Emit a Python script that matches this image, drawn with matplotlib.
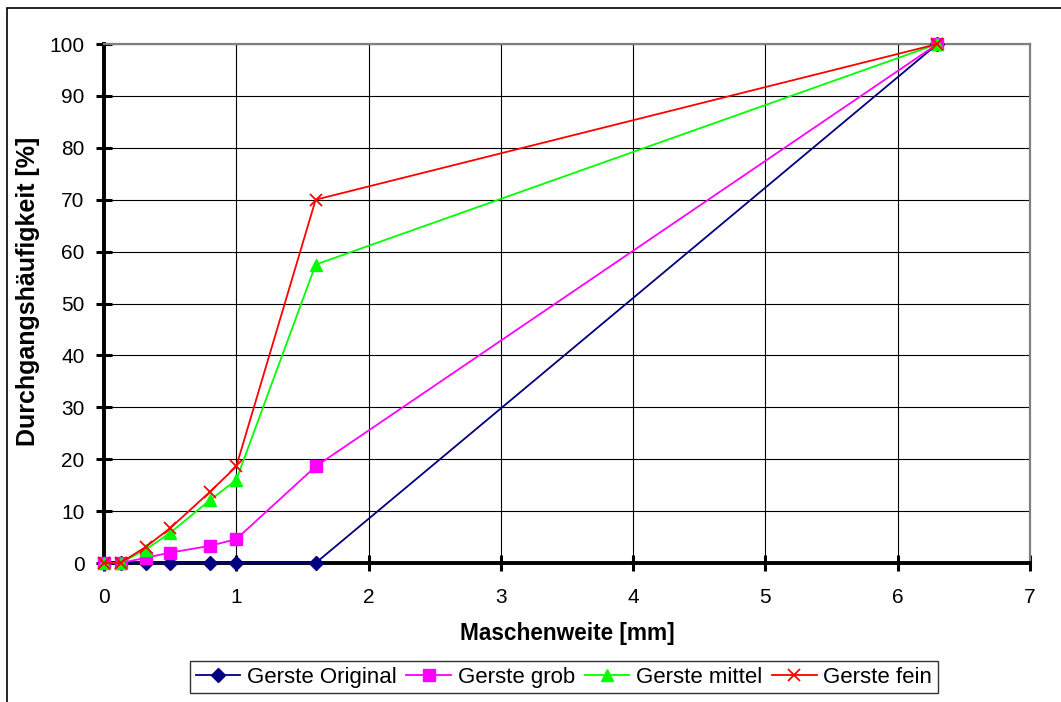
import matplotlib.pyplot as plt
from matplotlib.patches import Rectangle

plt.rcParams['font.family'] = ['Liberation Sans', 'DejaVu Sans']

# sieve sizes (mm) and passing fractions (%)
maschenweite = [0, 0.125, 0.315, 0.5, 0.8, 1.0, 1.6, 6.3]
original = [0, 0, 0, 0, 0, 0, 0, 100]
grob = [0, 0, 1.0, 2.0, 3.3, 4.6, 18.6, 100]
mittel = [0, 0, 2.6, 5.8, 12.1, 16.0, 57.5, 100]
fein = [0, 0, 3.1, 6.7, 13.7, 18.6, 70.0, 100]

fig = plt.figure(figsize=(10.61, 7.02), dpi=100)
ax = fig.add_axes([0.098, 0.198, 0.8728, 0.7393])

# outer chart frame (Excel style)
fig.patches.append(Rectangle((7 / 1061, -0.1), 1.2, 1.1 - 8 / 702,
                             transform=fig.transFigure, fill=False,
                             edgecolor='black', linewidth=1.2))

ax.plot(maschenweite, original, color='#000080', marker='D', markersize=7,
        linewidth=1.3, label='Gerste Original', zorder=3, clip_on=False)
ax.plot(maschenweite, grob, color='#FF00FF', marker='s', markersize=8,
        linewidth=1.3, label='Gerste grob', zorder=3, clip_on=False)
ax.plot(maschenweite, mittel, color='#00FF00', marker='^', markersize=9,
        linewidth=1.3, label='Gerste mittel', zorder=3, clip_on=False)
ax.plot(maschenweite, fein, color='#FF0000', marker='x', markersize=9,
        markeredgewidth=1.3, linewidth=1.3, label='Gerste fein', zorder=3,
        clip_on=False)

ax.set_xlim(0, 7)
ax.set_ylim(0, 100)
ax.set_xticks(range(0, 8))
ax.set_yticks(range(0, 101, 10))
ax.grid(True, color='black', linewidth=0.8)
ax.set_axisbelow(True)

for side in ['top', 'right']:
    ax.spines[side].set_color('#808080')
    ax.spines[side].set_linewidth(1.6)
for side in ['left', 'bottom']:
    ax.spines[side].set_color('black')
    ax.spines[side].set_linewidth(2.8)

ax.tick_params(direction='inout', length=12, width=2.2, labelsize=15)
ax.tick_params(axis='x', pad=12)
ax.tick_params(axis='y', pad=8)

ax.set_xlabel('Maschenweite [mm]', fontsize=16.3, fontweight='bold')
ax.xaxis.set_label_coords(0.5, -0.113)
ax.set_ylabel('Durchgangshäufigkeit [%]', fontsize=18, fontweight='bold',
              va='center')
ax.yaxis.set_label_coords(-0.082, 0.524)

fig.legend(loc='center', bbox_to_anchor=(0.5315, 0.0356), ncol=4,
           fontsize=16, frameon=True, fancybox=False, edgecolor='black',
           handlelength=2.0, columnspacing=0.45, handletextpad=0.3,
           borderpad=0.25)

fig.savefig('out.png', dpi=100)
